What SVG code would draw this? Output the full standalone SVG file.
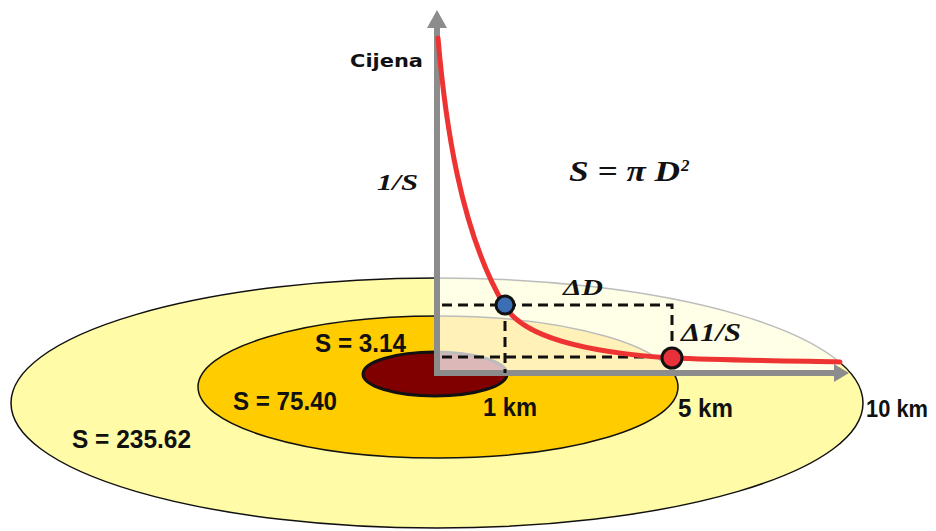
<svg xmlns="http://www.w3.org/2000/svg" width="936" height="531" viewBox="0 0 936 531">
<style>
.lbl{font-family:"Liberation Sans Narrow","Liberation Sans",Arial,sans-serif;font-weight:bold;fill:#111}
.math{font-family:"Liberation Serif","Times New Roman",serif;font-weight:bold;font-style:italic;fill:#111}
.axis{stroke:#8c8c8c;stroke-width:6;fill:none}
.dash{stroke:#111;stroke-width:3;stroke-dasharray:10 6;fill:none}
</style>
<rect width="936" height="531" fill="#ffffff"/>
<g id="zone-10km"><ellipse cx="437" cy="403" rx="426" ry="125" fill="#fffba6" stroke="#111" stroke-width="1.5"/></g>
<g id="zone-5km"><ellipse cx="438" cy="387" rx="240" ry="71" fill="#ffcc00" stroke="#111" stroke-width="1.5"/></g>
<g id="zone-1km"><ellipse cx="435" cy="374" rx="72" ry="22" fill="#800000" stroke="#111" stroke-width="3"/></g>
<rect id="plot-area" x="440" y="0" width="400" height="373" fill="#ffffff" fill-opacity="0.72"/>
<g id="connectors">
<line class="axis" x1="437" y1="376" x2="437" y2="26"/>
<polygon points="437,10 427,28 447,28" fill="#8c8c8c"/>
<line class="axis" x1="434" y1="373" x2="836" y2="373"/>
<polygon points="849,373 834,364 834,382" fill="#8c8c8c"/>
<path class="dash" d="M442,305 H672 V350"/>
<path class="dash" d="M505,305 V373"/>
<path class="dash" d="M442,357 H664"/>
<path d="M438,38 C445,120 460,230 504,305 C522,336 580,352 672,358 C720,360 790,361 840,362" fill="none" stroke="#ee3333" stroke-width="5" stroke-linecap="round"/>
</g>
<g id="point-1km"><circle cx="505" cy="305" r="9" fill="#3c6eb4" stroke="#111" stroke-width="3"/></g>
<g id="point-5km"><circle cx="672" cy="358" r="10" fill="#e8303a" stroke="#111" stroke-width="3"/></g>
<g id="labels">
<text x="350" y="67" font-family="DejaVu Sans,Verdana,sans-serif" font-weight="bold" font-size="18" textLength="73" lengthAdjust="spacingAndGlyphs" fill="#111">Cijena</text>
<text class="math" x="377" y="190" font-size="24" textLength="41" lengthAdjust="spacingAndGlyphs">1/S</text>
<text class="math" x="569" y="181" font-size="30" textLength="111" lengthAdjust="spacingAndGlyphs">S = π D</text>
<text class="math" x="681" y="171" font-size="17">2</text>
<text class="math" x="563" y="295" font-size="24" textLength="40" lengthAdjust="spacingAndGlyphs">ΔD</text>
<text class="math" x="681" y="341" font-size="25" textLength="60" lengthAdjust="spacingAndGlyphs">Δ1/S</text>
<text class="lbl" x="315" y="352" font-size="26" textLength="91" lengthAdjust="spacingAndGlyphs">S = 3.14</text>
<text class="lbl" x="233" y="410" font-size="26" textLength="104" lengthAdjust="spacingAndGlyphs">S = 75.40</text>
<text class="lbl" x="72" y="448" font-size="26" textLength="119" lengthAdjust="spacingAndGlyphs">S = 235.62</text>
<text class="lbl" x="483" y="416" font-size="26" textLength="54" lengthAdjust="spacingAndGlyphs">1 km</text>
<text class="lbl" x="678" y="417" font-size="26" textLength="55" lengthAdjust="spacingAndGlyphs">5 km</text>
<text class="lbl" x="866" y="417" font-size="23" textLength="62" lengthAdjust="spacingAndGlyphs">10 km</text>
</g>
</svg>
